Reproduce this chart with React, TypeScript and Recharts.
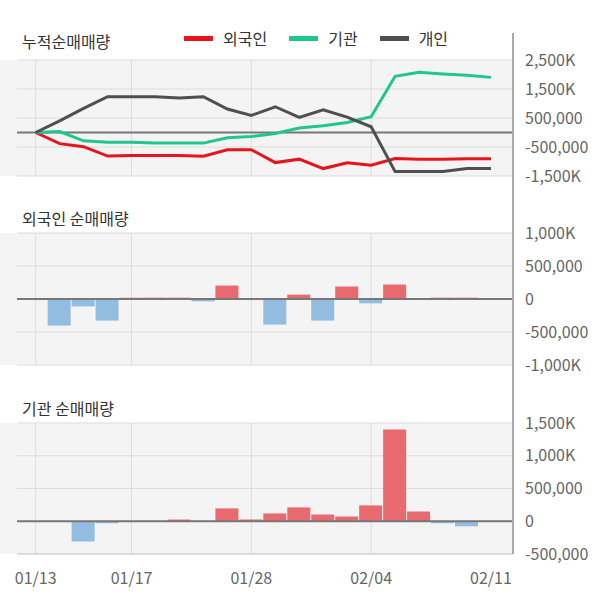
import React from 'react';
import {
  ComposedChart, Line, Bar, Cell, XAxis, YAxis, CartesianGrid, ReferenceLine,
} from 'recharts';

const dates = ['01/13','01/14','01/15','01/16','01/17','01/20','01/21','01/22','01/23','01/28','01/29','01/30','01/31','02/03','02/04','02/05','02/06','02/07','02/10','02/11'];
const xTicks = [0, 4, 9, 14, 19];
const gridIdx = [0, 4, 9, 14];

const foreignCum = [0, -384000, -488000, -814000, -790000, -790000, -790000, -820000, -593000, -593000, -1037000, -919000, -1244000, -1047000, -1127000, -899000, -920000, -920000, -909000, -909000];
const instCum = [0, 35000, -287000, -332000, -332000, -366000, -366000, -366000, -183000, -138000, -35000, 152000, 232000, 346000, 543000, 1936000, 2074000, 2018000, 1970000, 1901000];
const indivCum = [0, 404000, 830000, 1234000, 1234000, 1234000, 1189000, 1234000, 809000, 588000, 888000, 519000, 785000, 530000, 197000, -1348000, -1348000, -1348000, -1244000, -1244000];

const foreignNet = [0, -403000, -112000, -327000, 20000, 20000, 20000, -36000, 204000, 0, -388000, 66000, -327000, 189000, -66000, 219000, 0, 20000, 20000, 0];
const instNet = [0, 0, -309000, -31000, 0, 0, 26000, 0, 196000, 26000, 119000, 211000, 103000, 72000, 242000, 1402000, 149000, -31000, -77000, 0];

const ticks1 = [-1500000, -500000, 500000, 1500000, 2500000];
const ticks2 = [-1000000, -500000, 0, 500000, 1000000];
const ticks3 = [-500000, 0, 500000, 1000000, 1500000];

const seriesNames = ['외국인', '기관', '개인'];

const cumData = dates.map((d, i) => ({ i, date: d, foreign: foreignCum[i], inst: instCum[i], indiv: indivCum[i] }));
const foreignData = dates.map((d, i) => ({ i, date: d, v: foreignNet[i] }));
const instData = dates.map((d, i) => ({ i, date: d, v: instNet[i] }));

const FONT = '"Noto Sans CJK KR", "Noto Sans", sans-serif';
const X_DOMAIN: [number, number] = [-0.78, 19.92];
const RED = '#e8141c';
const GREEN = '#20c68b';
const GRAY = '#4f4f4f';
const seriesColors = [RED, GREEN, GRAY];
const BAR_RED = '#e8696e';
const BAR_BLUE = '#92bde0';
const BG = '#f4f4f4';
const GRID = '#dcdcdc';

const fmt = (v: number) =>
  Math.abs(v) >= 1000000 ? `${(v / 1000).toLocaleString('en-US')}K` : v.toLocaleString('en-US');

const tickStyle = { fill: '#666', fontSize: 16, fontFamily: FONT };

const vGen = (props: any) => {
  const xa = props?.xAxis;
  const off = props?.offset;
  if (xa && typeof xa.scale === 'function') return gridIdx.map((v) => xa.scale(v));
  return gridIdx.map((v) => off.left + ((v - X_DOMAIN[0]) / (X_DOMAIN[1] - X_DOMAIN[0])) * off.width);
};

const yAxisProps = {
  orientation: 'right' as const,
  width: 87,
  axisLine: false,
  tickLine: false,
  tickSize: 0,
  tickMargin: 12,
  tick: tickStyle,
  tickFormatter: fmt,
  interval: 0 as const,
  allowDataOverflow: true,
};

const LegendBox = () => (
  <div style={{ position: 'absolute', left: 184, top: 28, display: 'flex', alignItems: 'center', fontFamily: FONT, fontSize: 16, color: '#333', lineHeight: '20px' }}>
    {seriesNames.map((n, k) => (
      <div key={n} style={{ display: 'flex', alignItems: 'center', marginRight: 22 }}>
        <div style={{ width: 29, height: 5, background: seriesColors[k], marginRight: 10 }} />
        <span>{n}</span>
      </div>
    ))}
  </div>
);

const Title = ({ text, top }: { text: string; top: number }) => (
  <div style={{ position: 'absolute', left: 22, top, fontSize: 16, lineHeight: '20px', color: '#333', fontFamily: FONT, whiteSpace: 'nowrap' }}>
    {text}
  </div>
);

const Strip = ({ top, height }: { top: number; height: number }) => (
  <div style={{ position: 'absolute', left: 0, top, width: 17, height, background: BG }} />
);

export default function App() {
  return (
    <div style={{ position: 'absolute', left: 0, top: 0, width: 600, height: 604, background: '#fff', fontFamily: FONT, overflow: 'hidden' }}>
      <Strip top={60} height={116} />
      <Strip top={233} height={132} />
      <Strip top={423} height={131} />

      <Title text="누적순매매량" top={31} />
      <Title text="외국인 순매매량" top={208} />
      <Title text="기관 순매매량" top={398} />
      <LegendBox />

      <div style={{ position: 'absolute', left: 0, top: 0 }}>
        <ComposedChart width={600} height={200} data={cumData} margin={{ top: 60, right: 0, bottom: 24, left: 17 }}>
          <CartesianGrid fill={BG} stroke={GRID} verticalCoordinatesGenerator={vGen} />
          <XAxis dataKey="i" type="number" domain={X_DOMAIN} allowDataOverflow hide />
          <YAxis {...yAxisProps} domain={[-1500000, 2500000]} ticks={ticks1} />
          <ReferenceLine y={0} stroke="#777" strokeWidth={2} />
          <Line dataKey="foreign" name={seriesNames[0]} stroke={RED} strokeWidth={3} dot={false} isAnimationActive={false} />
          <Line dataKey="inst" name={seriesNames[1]} stroke={GREEN} strokeWidth={3} dot={false} isAnimationActive={false} />
          <Line dataKey="indiv" name={seriesNames[2]} stroke={GRAY} strokeWidth={3} dot={false} isAnimationActive={false} />
        </ComposedChart>
      </div>

      <div style={{ position: 'absolute', left: 0, top: 200 }}>
        <ComposedChart width={600} height={185} data={foreignData} margin={{ top: 33, right: 0, bottom: 20, left: 17 }}>
          <CartesianGrid fill={BG} stroke={GRID} verticalCoordinatesGenerator={vGen} />
          <XAxis dataKey="i" type="number" domain={X_DOMAIN} allowDataOverflow hide />
          <YAxis {...yAxisProps} domain={[-1000000, 1000000]} ticks={ticks2} />
          <Bar dataKey="v" barSize={23} isAnimationActive={false}>
            {foreignData.map((d) => (
              <Cell key={d.i} fill={d.v >= 0 ? BAR_RED : BAR_BLUE} />
            ))}
          </Bar>
          <ReferenceLine y={0} stroke="#777" strokeWidth={2} />
        </ComposedChart>
      </div>

      <div style={{ position: 'absolute', left: 0, top: 400 }}>
        <ComposedChart width={600} height={204} data={instData} margin={{ top: 23, right: 0, bottom: 0, left: 17 }}>
          <CartesianGrid fill={BG} stroke={GRID} verticalCoordinatesGenerator={vGen} />
          <XAxis
            dataKey="i"
            type="number"
            domain={X_DOMAIN}
            allowDataOverflow
            ticks={xTicks}
            interval={0}
            tickFormatter={(v: number) => dates[v]}
            height={50}
            axisLine={{ stroke: '#cfcfcf' }}
            tickLine={false}
            tickSize={0}
            tickMargin={19}
            tick={tickStyle}
          />
          <YAxis {...yAxisProps} domain={[-500000, 1500000]} ticks={ticks3} />
          <Bar dataKey="v" barSize={23} isAnimationActive={false}>
            {instData.map((d) => (
              <Cell key={d.i} fill={d.v >= 0 ? BAR_RED : BAR_BLUE} />
            ))}
          </Bar>
          <ReferenceLine y={0} stroke="#777" strokeWidth={2} />
        </ComposedChart>
      </div>

      <div style={{ position: 'absolute', left: 512, top: 33, width: 2, height: 521, background: '#aaa' }} />
    </div>
  );
}
